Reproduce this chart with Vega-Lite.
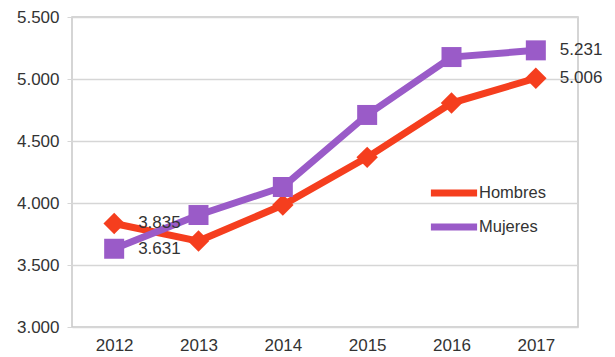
{
  "$schema": "https://vega.github.io/schema/vega-lite/v6.json",
  "width": 506,
  "height": 310,
  "autosize": {"type": "none"},
  "padding": {"left": 72, "top": 17, "right": 37, "bottom": 30},
  "background": "white",
  "config": {
    "locale": {"number": {"decimal": ",", "thousands": ".", "grouping": [3], "currency": ["", " €"]}},
    "font": "Liberation Sans",
    "view": {"stroke": "#c8c8c8", "strokeWidth": 1.5},
    "axis": {"labelFont": "Liberation Sans", "labelFontSize": 17, "labelColor": "#333333", "title": null}
  },
  "data": {
    "values": [
      {"year": "2012", "serie": "Hombres", "value": 3835, "label": 1},
      {"year": "2013", "serie": "Hombres", "value": 3693, "label": 0},
      {"year": "2014", "serie": "Hombres", "value": 3984, "label": 0},
      {"year": "2015", "serie": "Hombres", "value": 4368, "label": 0},
      {"year": "2016", "serie": "Hombres", "value": 4806, "label": 0},
      {"year": "2017", "serie": "Hombres", "value": 5006, "label": 1},
      {"year": "2012", "serie": "Mujeres", "value": 3631, "label": 1},
      {"year": "2013", "serie": "Mujeres", "value": 3903, "label": 0},
      {"year": "2014", "serie": "Mujeres", "value": 4129, "label": 0},
      {"year": "2015", "serie": "Mujeres", "value": 4710, "label": 0},
      {"year": "2016", "serie": "Mujeres", "value": 5177, "label": 0},
      {"year": "2017", "serie": "Mujeres", "value": 5231, "label": 1}
    ]
  },
  "encoding": {
    "x": {
      "field": "year", "type": "ordinal",
      "scale": {"paddingInner": 0, "paddingOuter": 0},
      "axis": {"labelAngle": 0, "domain": false, "ticks": false, "grid": false, "labelPadding": 10}
    },
    "y": {
      "field": "value", "type": "quantitative",
      "scale": {"domain": [3000, 5500], "nice": false, "zero": false},
      "axis": {"values": [3000, 3500, 4000, 4500, 5000, 5500], "format": ",d", "grid": true, "gridColor": "#d6d6d6", "gridWidth": 1.5, "domain": false, "tickSize": 5, "tickColor": "#d6d6d6", "labelPadding": 8}
    }
  },
  "resolve": {"legend": {"color": "independent", "shape": "independent", "size": "independent"}},
  "layer": [
    {
      "mark": {"type": "line", "strokeWidth": 7},
      "encoding": {
        "color": {
          "field": "serie", "type": "nominal",
          "scale": {"domain": ["Hombres", "Mujeres"], "range": ["#F53E1E", "#9A5BC8"]},
          "legend": {
            "orient": "none", "legendX": 362, "legendY": 156, "title": null,
            "symbolType": "M-1.4,0H1.4", "symbolSize": 1089, "symbolStrokeWidth": 7,
            "labelFontSize": 16.5, "labelColor": "#333333", "labelOffset": 5, "rowPadding": 0
          }
        }
      }
    },
    {
      "mark": {"type": "point", "filled": true, "opacity": 1, "strokeWidth": 0},
      "encoding": {
        "color": {"field": "serie", "type": "nominal", "legend": null},
        "shape": {"field": "serie", "type": "nominal", "scale": {"domain": ["Hombres", "Mujeres"], "range": ["diamond", "square"]}, "legend": null},
        "size": {"field": "serie", "type": "nominal", "scale": {"domain": ["Hombres", "Mujeres"], "range": [460, 400]}, "legend": null}
      }
    },
    {
      "transform": [{"filter": "datum.label == 1"}],
      "mark": {"type": "text", "align": "left", "baseline": "middle", "dx": 24, "fontSize": 17, "color": "#333333", "font": "Liberation Sans"},
      "encoding": {
        "text": {"field": "value", "type": "quantitative", "format": ","}
      }
    }
  ]
}
